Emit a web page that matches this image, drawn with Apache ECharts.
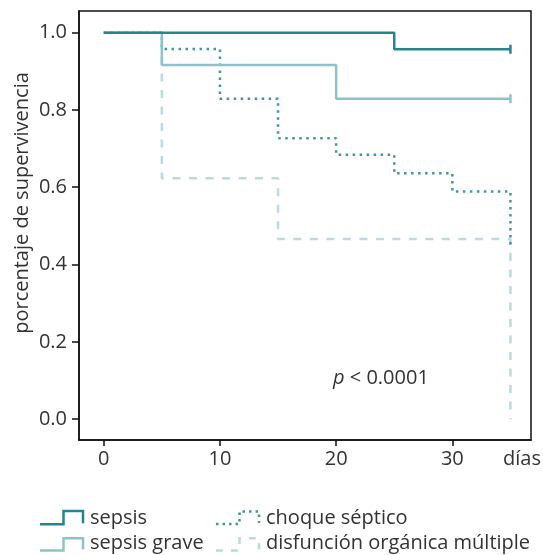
<!DOCTYPE html>
<html>
<head>
<meta charset="utf-8">
<script src="https://cdn.jsdelivr.net/npm/echarts@6/dist/echarts.min.js"></script>
<style>
html,body{margin:0;padding:0;background:#fff;}
#chart{width:543px;height:555px;}
</style>
</head>
<body>
<div id="chart"></div>
<script>
// Data (days, survival proportion)
const xTicks = [0, 10, 20, 30];
const yTicks = [0, 0.2, 0.4, 0.6, 0.8, 1.0];

const sepsisDays = [0, 25, 35];
const sepsisSurv = [1, 0.957, 0.957];

const graveDays = [0, 5, 20, 35];
const graveSurv = [1, 0.916, 0.829, 0.829];

const choqueDays = [0, 5, 10, 15, 20, 25, 30, 35];
const choqueSurv = [1, 0.958, 0.829, 0.727, 0.684, 0.636, 0.589, 0.443];

const disfDays = [0, 5, 15, 35];
const disfSurv = [1, 0.623, 0.466, 0];

const names = ['sepsis', 'sepsis grave', 'choque séptico', 'disfunción orgánica múltiple'];
const colors = ['#23858f', '#8cc3ca', '#3f97a3', '#b9dbe1'];
const pText = '< 0.0001';

const FONT = '"Open Sans", Lato, sans-serif';
const FS = 20;
const TXT = '#333';

function pts(d, s, censor) {
  return d.map((x, i) => {
    const it = { value: [x, s[i]] };
    if (censor && i === d.length - 1) {
      it.symbol = 'rect'; it.symbolSize = [2.5, 9];
    }
    return it;
  });
}

const chart = echarts.init(document.getElementById('chart'), null, { renderer: 'canvas' });

function lg(x, yLow, yTop, color, dash, label, dy) {
  const x0 = x, x1 = x + 23.5, x2 = x + 43;
  return [
    { type: 'polyline', shape: { points: [[x0, yLow], [x1, yLow], [x1, yTop], [x2, yTop], [x2, yLow - 1]] },
      style: { stroke: color, lineWidth: 2.5, fill: null, lineDash: dash } },
    { type: 'text', x: x + 50, y: (yLow + yTop) / 2 + dy,
      style: { text: label, font: FS + 'px ' + FONT, fill: TXT, textVerticalAlign: 'middle', textAlign: 'left' } }
  ];
}

const option = {
  animation: false,
  backgroundColor: '#fff',
  grid: { left: 79, right: 12, top: 11, bottom: 115, show: true, borderColor: '#111', borderWidth: 1.5, backgroundColor: 'transparent' },
  xAxis: {
    type: 'value', min: -2.13, max: 36.77,
    axisLine: { show: true, onZero: false, lineStyle: { color: '#111', width: 1.5 } },
    splitLine: { show: false },
    axisTick: { show: true, customValues: xTicks, length: 6, lineStyle: { color: '#111', width: 1.5 } },
    axisLabel: { customValues: xTicks, fontSize: FS, color: TXT, fontFamily: FONT, margin: 9 }
  },
  yAxis: {
    type: 'value', min: -0.054, max: 1.056,
    axisLine: { show: true, onZero: false, lineStyle: { color: '#111', width: 1.5 } },
    splitLine: { show: false },
    axisTick: { show: true, customValues: yTicks, length: 7, lineStyle: { color: '#111', width: 1.5 } },
    axisLabel: { customValues: yTicks, fontSize: FS, color: TXT, fontFamily: FONT, margin: 12,
      formatter: v => v.toFixed(1) }
  },
  series: [
    { name: names[3], type: 'line', step: 'end', data: pts(disfDays, disfSurv, false), symbol: 'none', z: 2,
      lineStyle: { color: colors[3], width: 2.5, type: [8, 8.5] }, itemStyle: { color: colors[3] } },
    { name: names[2], type: 'line', step: 'end', data: pts(choqueDays, choqueSurv, false), symbol: 'none', z: 3,
      lineStyle: { color: colors[2], width: 2.5, type: [2.5, 4.5] }, itemStyle: { color: colors[2] } },
    { name: names[1], type: 'line', step: 'end', data: pts(graveDays, graveSurv, true), symbol: 'none', showSymbol: true, z: 4,
      lineStyle: { color: colors[1], width: 2.5 }, itemStyle: { color: colors[1] } },
    { name: names[0], type: 'line', step: 'end', data: pts(sepsisDays, sepsisSurv, true), symbol: 'none', showSymbol: true, z: 5,
      lineStyle: { color: colors[0], width: 2.5 }, itemStyle: { color: colors[0] } }
  ],
  graphic: [
    { type: 'text', x: 22, y: 203, rotation: Math.PI / 2,
      style: { text: 'porcentaje de supervivencia', font: FS + 'px ' + FONT, fill: TXT, textAlign: 'center', textVerticalAlign: 'middle' } },
    { type: 'text', x: 503, y: 459,
      style: { text: 'días', font: FS + 'px ' + FONT, fill: TXT, textAlign: 'left', textVerticalAlign: 'middle' } },
    { type: 'text', x: 333, y: 378,
      style: { text: '{i|p} ' + pText, font: FS + 'px ' + FONT, fill: TXT, textVerticalAlign: 'middle',
        rich: { i: { fontStyle: 'italic', fontSize: FS, fontFamily: FONT, fill: TXT } } } },
    ...lg(40, 524.3, 511, colors[0], null, names[0], 0.5),
    ...lg(40, 550.5, 538.3, colors[1], null, names[1], -1.5),
    ...lg(216, 524, 511.5, colors[2], [2.5, 4], names[2], 0.5),
    ...lg(216, 550.5, 538.3, colors[3], [7, 8], names[3], -1.5)
  ]
};
chart.setOption(option);
</script>
</body>
</html>
